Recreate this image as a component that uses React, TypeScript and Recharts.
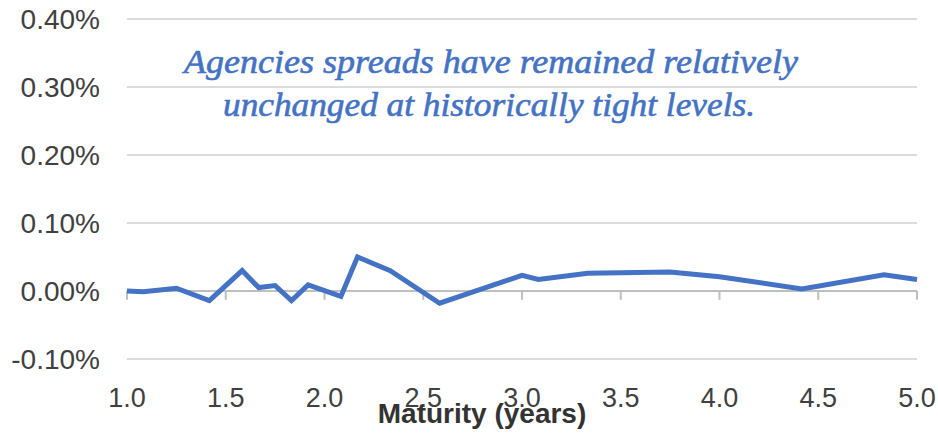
import React from 'react';
import { LineChart, Line, XAxis, YAxis, CartesianGrid, ReferenceLine } from 'recharts';

// maturity in years, spread in percent
const maturity = [
  1.0, 1.083, 1.25, 1.417, 1.583, 1.667, 1.75, 1.833, 1.917, 2.083, 2.167,
  2.333, 2.583, 3.0, 3.083, 3.333, 3.75, 4.0, 4.417, 4.833, 5.0,
];
const spread = [
  0.0, -0.001, 0.004, -0.014, 0.03, 0.005, 0.008, -0.014, 0.009, -0.008, 0.05,
  0.03, -0.018, 0.023, 0.017, 0.026, 0.028, 0.021, 0.003, 0.024, 0.017,
];
const xTicks = [1.0, 1.5, 2.0, 2.5, 3.0, 3.5, 4.0, 4.5, 5.0];
const yTicks = [-0.1, 0.0, 0.1, 0.2, 0.3, 0.4];
const noteLines = [
  'Agencies spreads have remained relatively',
  'unchanged at historically tight levels.',
];

const data = maturity.map((m, i) => ({ maturity: m, spread: spread[i] }));

const FONT = '"Liberation Sans", Arial, sans-serif';
const SERIF = '"Liberation Serif", "Times New Roman", serif';
const TEXT = '#404040';
const BLUE = '#4472C4';
const TICK_LEN = 0.013;

const YTick = (props: any) => {
  const { x, y, payload } = props;
  return (
    <text x={x} y={y} dy="0.355em" textAnchor="end" fill={TEXT} fontSize={28} fontFamily={FONT}>
      {`${payload.value.toFixed(2)}%`}
    </text>
  );
};

const XTick = (props: any) => {
  const { x, y, payload } = props;
  return (
    <text x={x} y={y} dy={48} textAnchor="middle" fill={TEXT} fontSize={27} fontFamily={FONT}>
      {payload.value.toFixed(1)}
    </text>
  );
};

export default function App() {
  return (
    <div style={{ position: 'absolute', left: 0, top: 0, width: 938, height: 436, background: '#fff' }}>
      <LineChart width={938} height={436} data={data} margin={{ top: 19, right: 21, left: 0, bottom: 0 }}>
        <CartesianGrid horizontal vertical={false} stroke="#cfcfcf" strokeWidth={1.5} />
        <XAxis
          type="number"
          dataKey="maturity"
          domain={[1, 5]}
          ticks={xTicks}
          axisLine={false}
          tickLine={false}
          tickSize={0}
          tickMargin={0}
          height={77}
          tick={<XTick />}
          interval={0}
          label={{
            value: 'Maturity (years)',
            position: 'insideBottom',
            offset: 13,
            dx: -40,
            fill: '#333333',
            fontSize: 28,
            fontWeight: 'bold',
            fontFamily: FONT,
          }}
        />
        <YAxis
          type="number"
          domain={[-0.1, 0.4]}
          ticks={yTicks}
          axisLine={false}
          tickLine={false}
          tickSize={0}
          tickMargin={27}
          width={127}
          tick={<YTick />}
          interval={0}
        />
        <ReferenceLine y={0} stroke="#bfbfbf" strokeWidth={2} />
        {xTicks.map((t) => (
          <ReferenceLine
            key={t}
            segment={[{ x: t, y: 0 }, { x: t, y: -TICK_LEN }]}
            stroke="#bfbfbf"
            strokeWidth={2}
          />
        ))}
        <Line
          type="linear"
          dataKey="spread"
          stroke={BLUE}
          strokeWidth={5}
          dot={false}
          isAnimationActive={false}
        />
      </LineChart>
      <svg width={938} height={436} style={{ position: 'absolute', left: 0, top: 0, pointerEvents: 'none' }}>
        <text x={184} y={73} textLength={614} lengthAdjust="spacingAndGlyphs" fill={BLUE} stroke={BLUE} strokeWidth={0.6} fontSize={33} fontStyle="italic" fontFamily={SERIF}>
          {noteLines[0]}
        </text>
        <text x={223} y={116} textLength={532} lengthAdjust="spacingAndGlyphs" fill={BLUE} stroke={BLUE} strokeWidth={0.6} fontSize={33} fontStyle="italic" fontFamily={SERIF}>
          {noteLines[1]}
        </text>
      </svg>
    </div>
  );
}
